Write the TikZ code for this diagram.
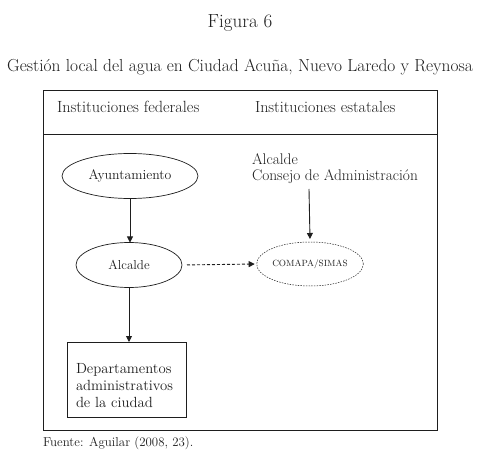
\documentclass[tikz,border=0pt]{standalone}
\usetikzlibrary{shapes.geometric,arrows.meta}
\definecolor{ink}{HTML}{1E1E1E}
\begin{document}
\begin{tikzpicture}[x=1pt,y=-1pt,
  every node/.style={inner sep=0pt,outer sep=0pt,text=ink},
  oval/.style={draw=ink,ellipse,line width=0.7pt,minimum height=45pt},
  doval/.style={draw=ink,ellipse,line width=0.5pt,dash pattern=on 1.5pt off 1.2pt,minimum height=44pt},
  frame/.style={draw=ink,line width=0.9pt},
  arr/.style={draw=ink,line width=0.9pt,-{Triangle[length=6pt,width=6pt]}},
  darr/.style={arr,dash pattern=on 3pt off 2pt},
]
\useasboundingbox (0,0) rectangle (479,462);
\fill[white] (0,0) rectangle (479,462);
\node[anchor=base,font=\fontsize{19}{22}\selectfont] (fig) at (240,28) {Figura 6};
\node[anchor=base,font=\fontsize{17.4}{20}\selectfont] (title) at (240,72) {Gestión local del agua en Ciudad Acuña, Nuevo Laredo y Reynosa};
\draw[frame] (43,90) rectangle (437,430);
\draw[frame] (43,134) -- (437,134);
\node[anchor=base west,font=\fontsize{16.2}{19}\selectfont] (fed) at (57,113) {Instituciones federales};
\node[anchor=base west,font=\fontsize{16}{19}\selectfont] (est) at (255,113) {Instituciones estatales};
\node[oval,minimum width=136pt,font=\fontsize{13.8}{16}\selectfont] (ayu) at (130,176) {Ayuntamiento};
\node[oval,minimum width=106pt,font=\fontsize{13}{15}\selectfont] (alc) at (129,265) {Alcalde};
\node[doval,minimum width=104pt,font=\fontsize{9}{11}\selectfont] (com) at (310,264) {COMAPA/SIMAS};
\node[anchor=north west,align=left,font=\fontsize{15.4}{16.4}\selectfont] (cons) at (252,153.5) {Alcalde\\Consejo de Administración};
\node[frame,minimum width=119pt,minimum height=75pt] (dep) at (126.5,379.5) {};
\node[anchor=north west,align=left,font=\fontsize{14.7}{17}\selectfont] (deptxt) at (76,363) {Departamentos\\administrativos\\de la ciudad};
\coordinate (ctop) at (309,189);
\draw[arr] (ayu.south) -- (ayu.south |- alc.north);
\draw[arr] (alc.south) -- (alc.south |- dep.north);
\draw[darr,shorten <=5pt,shorten >=2pt] (alc.east) -- (com.west);
\draw[arr] (ctop) -- ([yshift=3pt]com.north);
\node[anchor=base west,font=\fontsize{12.9}{15}\selectfont] (src) at (43,446) {Fuente: Aguilar (2008, 23).};
\end{tikzpicture}
\end{document}
